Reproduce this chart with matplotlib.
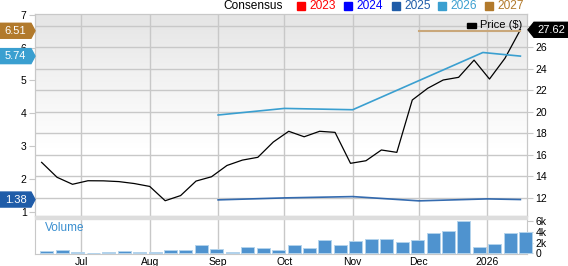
import matplotlib.pyplot as plt
import matplotlib.dates as mdates
import numpy as np
from datetime import datetime, timedelta
from matplotlib.patches import Polygon, Rectangle
from matplotlib.transforms import IdentityTransform

plt.rcParams['font.family'] = ['Liberation Sans', 'DejaVu Sans']

# weekly closing prices ($)
price_dates = ["2025-06-13", "2025-06-20", "2025-06-27", "2025-07-04", "2025-07-11", "2025-07-18",
               "2025-07-25", "2025-08-01", "2025-08-08", "2025-08-15", "2025-08-22", "2025-08-29",
               "2025-09-05", "2025-09-12", "2025-09-19", "2025-09-26", "2025-10-03", "2025-10-10",
               "2025-10-17", "2025-10-24", "2025-10-31", "2025-11-07", "2025-11-14", "2025-11-21",
               "2025-11-28", "2025-12-05", "2025-12-12", "2025-12-19", "2025-12-26", "2026-01-02",
               "2026-01-09", "2026-01-16"]
price = [15.29, 13.9, 13.25, 13.58, 13.57, 13.5, 13.32, 13.05, 11.72, 12.2, 13.55, 13.95,
         15.0, 15.5, 15.76, 17.18, 18.18, 17.67, 18.18, 18.08, 15.2, 15.44, 16.44, 16.22,
         21.09, 22.18, 22.95, 23.2, 24.8, 23.04, 24.97, 27.62]
# weekly volume (thousands)
volume = [0.5, 0.55, 0.2, 0.1, 0.2, 0.4, 0.35, 0.3, 0.55, 0.65, 1.6, 0.85, 0.35, 1.25, 1.0, 0.65,
          1.6, 1.0, 2.5, 1.5, 2.35, 2.6, 2.75, 2.2, 2.5, 3.7, 4.2, 6.05, 1.2, 1.75, 3.7, 4.0]

# consensus EPS estimates
eps25_dates = ["2025-09-01", "2025-10-01", "2025-11-01", "2025-12-01", "2026-01-01", "2026-01-16"]
eps25 = [1.37, 1.43, 1.47, 1.34, 1.40, 1.38]
eps26_dates = ["2025-09-01", "2025-10-01", "2025-11-01", "2025-12-30", "2026-01-16"]
eps26 = [3.95, 4.15, 4.11, 5.85, 5.74]
eps27_dates = ["2025-12-01", "2026-01-16"]
eps27 = [6.51, 6.51]

legend_years = ["2023", "2024", "2025", "2026", "2027"]
legend_colors = ["#ff0000", "#0000ff", "#1f5ca8", "#3a9fd0", "#b27a2c"]

def d(lst):
    return [datetime.strptime(s, "%Y-%m-%d") for s in lst]

W, H = 568, 266
fig = plt.figure(figsize=(W / 100, H / 100), dpi=100)
ax = fig.add_axes([35 / W, 1 - 216 / H, 492 / W, 202 / H])
axv = fig.add_axes([35 / W, 1 - 254 / H, 492 / W, 35 / H])
axl = ax.twinx()

xmin, xmax = datetime(2025, 6, 10), datetime(2026, 1, 19)
grid_c = "#c8c8c8"

# background gradient, grey at the top fading to white
grad = np.linspace(1, 0, 100).reshape(-1, 1)
ax.imshow(grad, extent=[0, 1, 0, 1], transform=ax.transAxes, aspect="auto",
          cmap=plt.matplotlib.colors.LinearSegmentedColormap.from_list(
              "g", ["#ffffff", "#ffffff", "#f3f3f3", "#e5e5e5"]), zorder=0)

ax.plot(d(price_dates), price, color="black", lw=0.9, zorder=3)
axl.plot(d(eps25_dates), eps25, color=legend_colors[2], lw=1.2, alpha=0.9)
axl.plot(d(eps26_dates), eps26, color=legend_colors[3], lw=1.2)
axl.plot(d(eps27_dates), eps27, color="#c9a77a", lw=1.5)

bar_dates = [x + timedelta(days=2.4) for x in d(price_dates)]
axv.bar(bar_dates, volume, width=5.9, color="#4f93cf", edgecolor="#b3d3ec", lw=0.7,
        zorder=3, clip_on=False)

months = d(["2025-07-01", "2025-08-01", "2025-09-01", "2025-10-01", "2025-11-01",
            "2025-12-01", "2026-01-01"])
month_labels = ["Jul", "Aug", "Sep", "Oct", "Nov", "Dec", "2026"]

for a in (ax, axv):
    a.set_xlim(xmin, xmax)
    a.set_xticks(months)
    a.grid(axis="x", color=grid_c, lw=1)
    a.set_axisbelow(True)
    for s in a.spines.values():
        s.set_color(grid_c)
ax.set_xticklabels([])
ax.tick_params(axis="x", length=0)
axv.set_xticklabels(month_labels)
axv.tick_params(axis="x", length=0, labelsize=7.5, pad=2)

ax.set_ylim(10.3, 29.09)
ax.set_yticks(range(12, 29, 2))
# 28 sits under the price tag
ax.set_yticklabels([str(v) for v in range(12, 27, 2)] + [""])
ax.yaxis.tick_right()
ax.grid(axis="y", color=grid_c, lw=1)
ax.tick_params(axis="y", length=4, color=grid_c, labelsize=7.5, pad=2)

axl.set_ylim(0.88, 7.02)
axl.set_yticks(range(1, 8))
axl.yaxis.tick_left()
axl.tick_params(axis="y", length=4, color=grid_c, labelsize=7.5, pad=2)
for s in axl.spines.values():
    s.set_color(grid_c)

axv.set_ylim(-0.1, 6.35)
axv.set_yticks([0, 2, 4, 6])
axv.set_yticklabels(["0", "2k", "4k", "6k"])
axv.yaxis.tick_right()
axv.tick_params(axis="y", length=4, color=grid_c, labelsize=7.5, pad=2)
axv.spines["top"].set_visible(False)
axv.text(0.02, 0.75, "Volume", transform=axv.transAxes, color="#3a8fd0", fontsize=8.5,
         va="center")

# separator band
fig.add_artist(Rectangle((35 / W, 1 - 219 / H), 492 / W, 3 / H, transform=fig.transFigure,
                         color="#dddddd", zorder=5))

# top legend
fig.text(223 / W, 1 - 6 / H, "Consensus", fontsize=8.6, va="center")
lx = [297, 344, 392, 438, 485]
for x0, yr, c in zip(lx, legend_years, legend_colors):
    fig.add_artist(Rectangle((x0 / W, 1 - 10 / H), 8 / W, 8 / H, transform=fig.transFigure,
                             color=c))
    fig.text((x0 + 12) / W, 1 - 6 / H, yr, color=c, fontsize=8.6, va="center")

# price legend in plot
fig.add_artist(Rectangle((467 / W, 1 - 28 / H), 9 / W, 5 / H, transform=fig.transFigure,
                         color="black"))
fig.text(480 / W, 1 - 25.5 / H, "Price ($)", fontsize=8, va="center")

# value tags
def ypix(axis, v):
    return axis.transData.transform((0, v))[1]

def left_tag(v, c):
    y = ypix(axl, v)
    fig.add_artist(Polygon([(0, y - 7.5), (31, y - 7.5), (35, y), (31, y + 7.5), (0, y + 7.5)],
                           closed=True, color=c, transform=IdentityTransform(), zorder=10))
    fig.text(15.5 / W, y / H, f"{v:.2f}", color="white", fontsize=8, ha="center", va="center",
             zorder=11)

left_tag(eps27[-1], legend_colors[4])
left_tag(eps26[-1], legend_colors[3])
left_tag(eps25[-1], legend_colors[2])

y = ypix(ax, price[-1])
fig.add_artist(Polygon([(528, y), (534, y + 7.5), (568, y + 7.5), (568, y - 7.5), (534, y - 7.5)],
                       closed=True, color="black", transform=IdentityTransform(), zorder=10))
fig.text(551 / W, y / H, f"{price[-1]:.2f}", color="white", fontsize=8, ha="center",
         va="center", zorder=11)

fig.savefig("out.png", dpi=100)
